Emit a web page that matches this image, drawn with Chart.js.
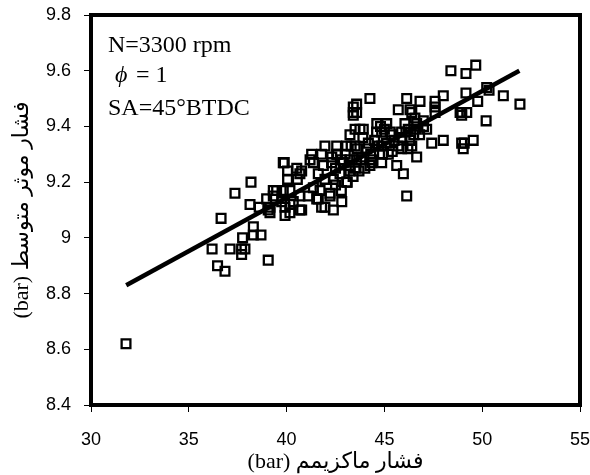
<!DOCTYPE html>
<html>
<head>
<meta charset="utf-8">
<script src="https://cdn.jsdelivr.net/npm/chart.js@4.4.0/dist/chart.umd.min.js"></script>
<style>
  html, body { margin: 0; padding: 0; background: #fff; }
  #chart { display: block; direction: rtl; }
</style>
</head>
<body>
<canvas id="chart" width="590" height="475" dir="rtl"></canvas>
<script>
// maximum pressure (bar) for each test point
const maxPressure = [
  31.79, 36.19, 36.47, 36.85, 37.11, 37.70, 37.70, 37.87, 37.75, 38.30,
  38.30, 38.69, 39.06, 36.65, 37.36, 38.18, 39.32, 39.49, 38.98, 38.60,
  39.15, 39.15, 39.88, 40.05, 40.52, 40.77, 40.05, 40.55, 40.68, 40.17,
  39.83, 39.75, 40.17, 40.77, 39.92, 41.20, 41.28, 41.79, 42.31, 41.37,
  41.88, 42.90, 43.24, 42.73, 43.24, 41.62, 41.96, 42.39, 43.07, 41.37,
  41.71, 39.32, 40.68, 41.11, 41.62, 42.22, 42.82, 40.34, 39.92, 40.17,
  40.68, 41.79, 42.39, 39.06, 38.13, 41.96, 42.56, 43.07, 39.83, 43.24,
  43.75, 43.41, 43.41, 43.41, 42.22, 41.54, 41.96, 44.26, 46.14, 46.82,
  45.71, 46.40, 47.59, 47.59, 47.59, 48.01, 43.58, 43.58, 48.95, 48.95,
  44.61, 45.12, 46.05, 46.65, 47.16, 43.92, 44.86, 45.37, 45.88, 46.22,
  47.42, 48.01, 48.95, 44.18, 44.86, 45.88, 46.40, 46.65, 43.84, 44.35,
  44.86, 44.26, 45.63, 45.97, 46.14, 43.50, 43.50, 43.50, 48.40, 49.17,
  49.67, 50.23, 50.35, 51.08, 51.93, 49.17, 49.77, 48.87, 49.21, 50.20,
  46.31, 46.56, 46.99, 49.54, 49.08, 49.03, 42.56, 43.58,
  43.90, 44.10, 44.30, 44.50, 44.70, 44.90, 45.10, 45.30, 45.50, 45.70,
  45.90, 46.10, 46.30, 46.50, 44.80, 44.60, 45.00, 43.60, 43.80, 44.00,
  44.40, 45.20, 45.40, 43.30, 43.00, 43.20, 42.80, 42.60, 42.50, 42.30,
  43.40, 43.70, 42.50, 42.80, 43.10, 46.60, 46.80, 47.00, 46.20
];

// indicated mean effective pressure (bar)
const meanPressure = [
  8.62, 8.96, 8.90, 8.88, 8.96, 8.96, 8.94, 8.96, 9.00, 9.04,
  9.01, 9.01, 8.92, 9.07, 9.16, 9.20, 9.17, 9.17, 9.14, 9.11,
  9.11, 9.09, 9.27, 9.24, 9.25, 9.24, 9.21, 9.21, 9.23, 9.17,
  9.17, 9.13, 9.12, 9.10, 9.08, 9.28, 9.30, 9.30, 9.29, 9.27,
  9.26, 9.27, 9.28, 9.23, 9.24, 9.23, 9.21, 9.21, 9.20, 9.18,
  9.17, 9.15, 9.15, 9.15, 9.14, 9.15, 9.13, 9.13, 9.11, 9.09,
  9.10, 9.11, 9.10, 9.10, 9.12, 9.33, 9.33, 9.33, 9.27, 9.37,
  9.39, 9.47, 9.45, 9.44, 9.16, 9.14, 9.11, 9.50, 9.50, 9.49,
  9.46, 9.45, 9.49, 9.47, 9.45, 9.51, 9.48, 9.45, 9.45, 9.44,
  9.41, 9.41, 9.41, 9.41, 9.39, 9.39, 9.38, 9.37, 9.38, 9.39,
  9.34, 9.35, 9.34, 9.34, 9.33, 9.32, 9.33, 9.29, 9.29, 9.27,
  9.27, 9.26, 9.26, 9.23, 9.15, 9.39, 9.33, 9.25, 9.60, 9.59,
  9.62, 9.54, 9.53, 9.51, 9.48, 9.52, 9.49, 9.45, 9.45, 9.42,
  9.46, 9.43, 9.42, 9.35, 9.34, 9.32, 9.30, 9.28,
  9.36, 9.32, 9.30, 9.35, 9.33, 9.30, 9.34, 9.38, 9.35, 9.33,
  9.36, 9.38, 9.35, 9.37, 9.40, 9.38, 9.39, 9.32, 9.28, 9.25,
  9.28, 9.30, 9.31, 9.33, 9.30, 9.26, 9.28, 9.30, 9.25, 9.27,
  9.22, 9.24, 9.19, 9.17, 9.20, 9.39, 9.37, 9.40, 9.32
];

// linear fit drawn through the cloud
const trendX = [31.8, 51.9];
const trendY = [8.83, 9.60];

const xTicks = [30, 35, 40, 45, 50, 55];
const yTicks = [8.4, 8.6, 8.8, 9, 9.2, 9.4, 9.6, 9.8];
const yTickLabels = ["8.4", "8.6", "8.8", "9", "9.2", "9.4", "9.6", "9.8"];

const xTitle = "فشار ماکزیمم (bar)";
const yTitle = "فشار موثر متوسط (bar)";
const notes = ["N=3300 rpm", "SA=45°BTDC"];

const points = maxPressure.map((x, i) => ({ x: x, y: meanPressure[i] }));
const trend = trendX.map((x, i) => ({ x: x, y: trendY[i] }));

const frameAndNotes = {
  id: "frameAndNotes",
  afterDraw(chart) {
    const { ctx, chartArea: a } = chart;
    ctx.save();
    ctx.strokeStyle = "#000";
    ctx.lineWidth = 4;
    ctx.strokeRect(a.left, a.top, a.right - a.left, a.bottom - a.top);

    ctx.fillStyle = "#000";
    ctx.textAlign = "left";
    ctx.textBaseline = "alphabetic";
    ctx.direction = "ltr";
    ctx.font = "24px 'Liberation Serif', serif";
    ctx.fillText(notes[0], a.left + 17, a.top + 37);
    ctx.font = "italic 24px 'Liberation Serif', serif";
    ctx.fillText("ϕ", a.left + 24, a.top + 67);
    ctx.font = "24px 'Liberation Serif', serif";
    ctx.fillText("= 1", a.left + 45, a.top + 67);
    ctx.fillText(notes[1], a.left + 17, a.top + 100);
    ctx.restore();
  }
};

new Chart(document.getElementById("chart").getContext("2d"), {
  type: "scatter",
  data: {
    datasets: [
      {
        data: points,
        pointStyle: "rect",
        pointRadius: 6.2,
        pointBorderWidth: 2.3,
        pointBorderColor: "#000",
        pointBackgroundColor: "rgba(255,255,255,0)",
        pointHoverRadius: 6.2
      },
      {
        data: trend,
        showLine: true,
        borderColor: "#000",
        borderWidth: 4.5,
        pointRadius: 0,
        pointHoverRadius: 0
      }
    ]
  },
  options: {
    responsive: false,
    animation: false,
    layout: { padding: { left: 0, right: 10, top: 15, bottom: 0 } },
    plugins: { legend: { display: false }, tooltip: { enabled: false } },
    scales: {
      x: {
        type: "linear",
        min: 30,
        max: 55,
        afterBuildTicks: s => { s.ticks = xTicks.map(v => ({ value: v })); },
        afterFit: s => { s.height = 70; s.paddingLeft = 0; s.paddingRight = 0; },
        ticks: {
          color: "#000",
          font: { family: "'Liberation Sans', Arial", size: 18 },
          padding: 17,
          maxRotation: 0
        },
        grid: { drawOnChartArea: false, drawTicks: true, tickLength: 7, color: "#000", lineWidth: 1 },
        border: { display: false },
        title: {
          display: true,
          text: xTitle,
          color: "#000",
          font: { family: "'Liberation Serif', 'DejaVu Sans', serif", size: 22 },
          padding: { top: 0, bottom: 0 }
        }
      },
      y: {
        type: "linear",
        min: 8.4,
        max: 9.8,
        afterBuildTicks: s => { s.ticks = yTicks.map(v => ({ value: v })); },
        afterFit: s => { s.width = 91; s.paddingTop = 0; s.paddingBottom = 0; },
        ticks: {
          color: "#000",
          font: { family: "'Liberation Sans', Arial", size: 18 },
          padding: 13,
          callback: (v, i) => yTickLabels[i]
        },
        grid: { drawOnChartArea: false, drawTicks: true, tickLength: 7, color: "#000", lineWidth: 1 },
        border: { display: false },
        title: {
          display: true,
          text: yTitle,
          color: "#000",
          font: { family: "'Liberation Serif', 'DejaVu Sans', serif", size: 22 },
          padding: { top: 9, bottom: 0 }
        }
      }
    }
  },
  plugins: [frameAndNotes]
});
</script>
</body>
</html>
